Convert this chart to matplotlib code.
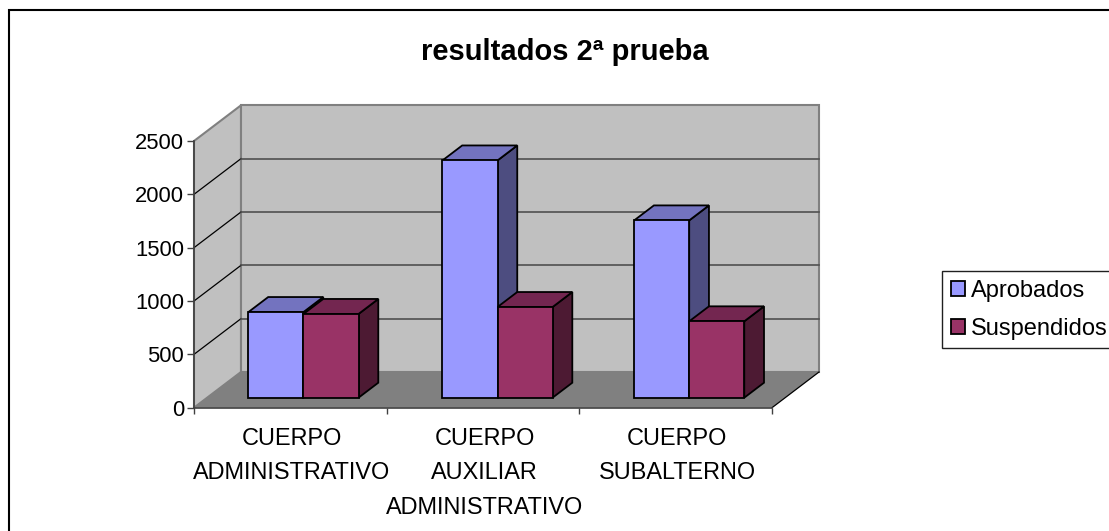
import matplotlib
matplotlib.use("Agg")
import matplotlib.pyplot as plt
from matplotlib.patches import Patch, Polygon, Rectangle

groups = ["CUERPO\nADMINISTRATIVO", "CUERPO\nAUXILIAR\nADMINISTRATIVO", "CUERPO\nSUBALTERNO"]
aprobados = [803, 2224, 1662]
suspendidos = [785, 850, 716]
yticks = [0, 500, 1000, 1500, 2000, 2500]

W, H = 1109, 531
plt.rcParams["font.family"] = ["Liberation Sans", "DejaVu Sans"]

fig = plt.figure(figsize=(W / 100, H / 100), dpi=100)
fig.patch.set_facecolor("white")
ax = fig.add_axes([194 / W, 1 - 407.7 / H, 578 / W, 266.7 / H])
ax.set_xlim(0, 3)
ax.set_ylim(0, 2500)
ax.patch.set_visible(False)

# how far the depth of the box moves a point, in data units
DX = 47 / (578 / 3)
DY = 35.7 / (266.7 / 2500)
BAR_W = 1 / 3.5
GAP = 0.75 * BAR_W
D0, D1 = 0.28, 0.70
NUDGE = [0, 0.007, 0.002]


def pt(x, y, d=0.0):
    return (x + d * DX, y + d * DY)


def face(corners, color, lw=1.3, ec="black", z=2):
    ax.add_patch(Polygon([pt(*c) for c in corners], closed=True, fc=color, ec=ec, lw=lw,
                         zorder=z, clip_on=False, joinstyle="miter"))


def bar(x, val, c_front, c_top, c_side, z):
    x2 = x + BAR_W
    face([(x2, 0, D0), (x2, 0, D1), (x2, val, D1), (x2, val, D0)], c_side, z=z)
    face([(x, val, D0), (x2, val, D0), (x2, val, D1), (x, val, D1)], c_top, z=z)
    face([(x, 0, D0), (x2, 0, D0), (x2, val, D0), (x, val, D0)], c_front, z=z)


# walls and floor
wall = "#c0c0c0"
edge = "#808080"
face([(0, 0, 0), (0, 0, 1), (0, 2500, 1), (0, 2500, 0)], wall, lw=1.5, ec=edge, z=1)
face([(0, 0, 1), (3, 0, 1), (3, 2500, 1), (0, 2500, 1)], wall, lw=1.5, ec=edge, z=1)
face([(0, 0, 0), (3, 0, 0), (3, 0, 1), (0, 0, 1)], edge, lw=0, ec=edge, z=1)

# gridlines along side wall and back wall
for v in yticks[1:-1]:
    ax.plot(*zip(pt(0, v, 0), pt(0, v, 1)), color="black", lw=0.9, zorder=1.5, clip_on=False)
    ax.plot(*zip(pt(0, v, 1), pt(3, v, 1)), color="#505050", lw=1.2, zorder=1.5, clip_on=False)
ax.plot(*zip(pt(3, 0, 0), pt(3, 0, 1)), color="black", lw=0.9, zorder=1.5, clip_on=False)

for i in range(len(groups)):
    x = i + GAP + NUDGE[i]
    bar(x, aprobados[i], "#9999ff", "#7373bf", "#4d4d80", 3 + i)
    bar(x + BAR_W, suspendidos[i], "#993366", "#732650", "#4d1a33", 3.5 + i)

for s in ["top", "right"]:
    ax.spines[s].set_visible(False)
for s in ["left", "bottom"]:
    ax.spines[s].set_color("#404040")
    ax.spines[s].set_linewidth(1.2)
    ax.spines[s].set_zorder(10)

ax.set_yticks(yticks)
ax.set_xticks([0, 1, 2, 3])
ax.set_xticklabels([])
ax.set_xticks([0.508, 1.508, 2.508], groups, minor=True)
ax.tick_params(axis="y", length=5, width=1, color="#404040", labelsize=15.8, pad=2)
ax.tick_params(axis="x", which="major", length=4.5, width=1, color="#404040")
ax.tick_params(axis="x", which="minor", length=0, labelsize=16.9, pad=14)
for t in ax.get_xticklabels(minor=True):
    t.set_linespacing(1.63)

fig.text(565 / W, 1 - 52 / H, "resultados 2ª prueba", fontsize=21, fontweight="bold",
         ha="center", va="center")

# chart border: only the top and left edges fall inside the picture
fig.add_artist(Rectangle((8.5 / W, -0.2), 1.2, 1.2 - 10 / H, transform=fig.transFigure,
                         fc="none", ec="black", lw=1.5))

handles = [Patch(fc="#9999ff", ec="black", lw=1.3, label="Aprobados"),
           Patch(fc="#993366", ec="black", lw=1.3, label="Suspendidos")]
leg = fig.legend(handles=handles, loc="upper left", bbox_to_anchor=(942 / W, 1 - 271 / H),
                 fontsize=17, frameon=True, fancybox=False, framealpha=1, edgecolor="#202020",
                 borderaxespad=0, borderpad=0.36, handlelength=0.6, handleheight=0.6,
                 handletextpad=0.28, labelspacing=0.68)
leg.get_frame().set_linewidth(1)

fig.savefig("out.png", dpi=100)
